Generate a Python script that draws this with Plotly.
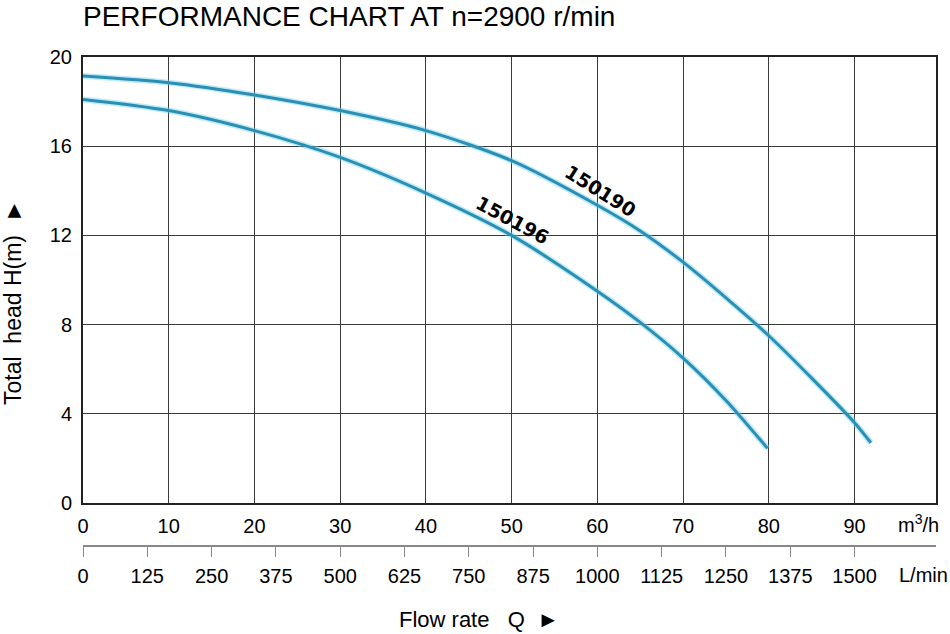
import plotly.graph_objects as go

# Data
q_150190 = [0, 10, 20, 30, 40, 50, 60, 65, 70, 75, 80, 85, 90, 91.9]
h_150190 = [19.15, 18.85, 18.3, 17.6, 16.7, 15.35, 13.35, 12.2, 10.8, 9.2, 7.5, 5.6, 3.6, 2.7]
q_150196 = [0, 10, 20, 30, 40, 50, 60, 65, 70, 75, 79.85]
h_150196 = [18.1, 17.6, 16.7, 15.5, 13.9, 12.0, 9.5, 8.1, 6.5, 4.6, 2.45]
m3h_ticks = [0, 10, 20, 30, 40, 50, 60, 70, 80, 90]
lmin_ticks = [0, 125, 250, 375, 500, 625, 750, 875, 1000, 1125, 1250, 1375, 1500]
h_ticks = [0, 4, 8, 12, 16, 20]
labels = ["150190", "150196"]

W, H = 950, 634
ML, MR, MT, MB = 83, 14, 57, 0
PW = W - ML - MR
PH = H - MT - MB
X_MAX = 99.5

def px(xpx):
    return (xpx - ML) / PW

def py(ypx):
    return (H - MB - ypx) / PH

curve_col = "#2b8fb4"
glow_col = "rgba(110,210,240,0.45)"
font = "Liberation Sans, Arial, sans-serif"

fig = go.Figure()
for q, h in ((q_150190, h_150190), (q_150196, h_150196)):
    fig.add_trace(go.Scatter(x=q, y=h, mode="lines",
                             line=dict(color=glow_col, width=6, shape="spline", smoothing=0.8),
                             hoverinfo="skip", showlegend=False))
    fig.add_trace(go.Scatter(x=q, y=h, mode="lines",
                             line=dict(color=curve_col, width=3, shape="spline", smoothing=0.8),
                             hoverinfo="skip", showlegend=False))
# invisible trace for the L/min axis
fig.add_trace(go.Scatter(x=[lmin_ticks[0], lmin_ticks[-1]], y=[0, 0], xaxis="x2", yaxis="y",
                         mode="markers", marker=dict(opacity=0), hoverinfo="skip",
                         showlegend=False))

lab_font = dict(family="DejaVu Sans, sans-serif", size=19, color="black")
fig.add_annotation(x=60.4, y=14.0, text="<b>" + labels[0] + "</b>", showarrow=False,
                   textangle=32, font=lab_font)
fig.add_annotation(x=50.1, y=12.7, text="<b>" + labels[1] + "</b>", showarrow=False,
                   textangle=28, font=lab_font)

fig.add_annotation(xref="paper", yref="paper", x=px(82), y=py(0), xanchor="left", yanchor="top",
                   text="PERFORMANCE CHART AT n=2900 r/min", showarrow=False, borderpad=0,
                   font=dict(family=font, size=28, color="black"))
fig.add_annotation(xref="paper", yref="paper", x=px(13), y=py(302), xanchor="center", yanchor="middle",
                   text="Total  head H(m)  ►", textangle=-90, showarrow=False,
                   font=dict(family=font, size=23, color="black"))
fig.add_annotation(xref="paper", yref="paper", x=px(479), y=py(619), xanchor="center", yanchor="middle",
                   text="Flow rate   Q  ►", showarrow=False, font=dict(family=font, size=22, color="black"))
fig.add_annotation(xref="paper", yref="paper", x=px(896), y=py(523), xanchor="left", yanchor="middle",
                   text="m<sup>3</sup>/h", showarrow=False, font=dict(family=font, size=20, color="black"))
fig.add_annotation(xref="paper", yref="paper", x=px(897), y=py(575), xanchor="left", yanchor="middle",
                   text="L/min", showarrow=False, font=dict(family=font, size=20, color="black"))

tick_font = dict(family=font, size=20, color="black")
fig.update_layout(
    width=W, height=H,
    margin=dict(l=ML, r=MR, t=MT, b=MB, pad=0, autoexpand=False),
    paper_bgcolor="white", plot_bgcolor="white",
    showlegend=False,
    xaxis=dict(range=[0, X_MAX], tickvals=m3h_ticks, ticks="", ticklabelstandoff=4,
               showgrid=True, gridcolor="#3a3a3a", gridwidth=1.3,
               showline=True, linecolor="#222", linewidth=2, mirror=True,
               zeroline=False, tickfont=tick_font, anchor="y", automargin=False),
    yaxis=dict(range=[0, 20], tickvals=h_ticks, ticks="", ticklabelstandoff=5,
               domain=[py(503), 1],
               showgrid=True, gridcolor="#3a3a3a", gridwidth=1.3,
               showline=True, linecolor="#222", linewidth=2, mirror=True,
               zeroline=False, tickfont=tick_font, automargin=False),
    xaxis2=dict(range=[0, X_MAX / 0.06], tickvals=lmin_ticks, overlaying="x", anchor="free",
                position=py(546), side="bottom", ticks="outside", ticklen=10, tickwidth=1.3,
                tickcolor="#888", showline=True, linecolor="#888", linewidth=1.6,
                showgrid=False, zeroline=False, tickfont=tick_font, ticklabelstandoff=2,
                automargin=False),
)

fig.write_html("out.html", config={"displayModeBar": False},
               post_script="document.body.style.margin='0';document.body.style.overflow='hidden';")
